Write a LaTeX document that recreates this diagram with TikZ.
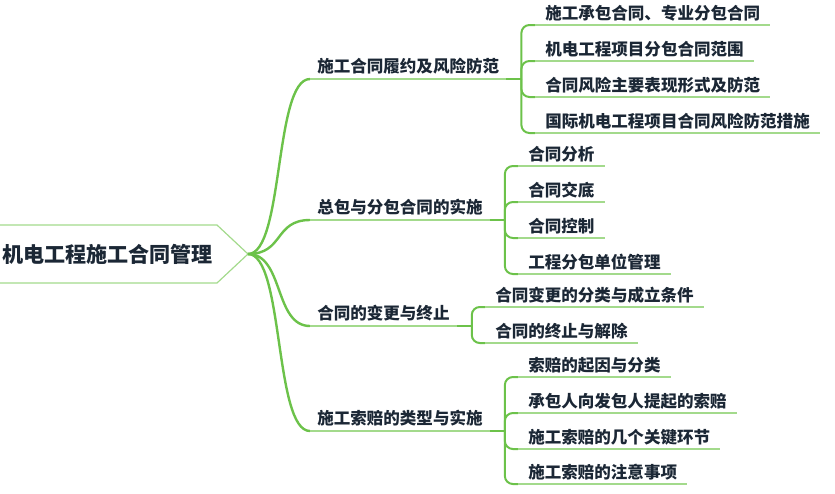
\documentclass[tikz,border=0pt]{standalone}
\usepackage{fontspec}
\setmainfont{Noto Sans CJK SC}
\usetikzlibrary{positioning}
\definecolor{branchgreen}{HTML}{6CC24A}
\definecolor{linegreen}{HTML}{A3DA8C}
\definecolor{inkblue}{HTML}{1B2735}
\tikzset{
  topic/.style={font=\bfseries\fontsize{15.8pt}{18pt}\selectfont, text=inkblue,
    inner xsep=1.5pt, anchor=west},
  sub/.style={font=\bfseries\fontsize{12.4pt}{15pt}\selectfont, text=inkblue,
    inner xsep=5.25pt, inner ysep=0pt, text depth=4.5pt, anchor=south west},
  leaf/.style={sub, inner xsep=7.5pt, text depth=4.1pt},
  branch/.style={draw=branchgreen, line width=1.8pt},
  stub/.style={draw=branchgreen, line width=2.2pt},
  bracket/.style={draw=branchgreen, line width=1.5pt, rounded corners=6pt},
  uline/.style={draw=linegreen, line width=1.1pt}
}

\begin{document}
\begin{tikzpicture}[x=0.75pt, y=-0.75pt]
  \useasboundingbox (0,0) rectangle (835,493);
  % central topic
  \draw[linegreen, line width=0.9pt] (-2,225) -- (217,225) -- (248,254) -- (217,283) -- (-2,283);
  \node[topic] (root) at (0,254) {机电工程施工合同管理};
  \coordinate (tip) at (248,254);
  % main branches
  \node[sub] (p1) at (310,79) {施工合同履约及风险防范};
  \node[sub] (p2) at (310,220) {总包与分包合同的实施};
  \node[sub] (p3) at (310,326) {合同的变更与终止};
  \node[sub] (p4) at (310,431) {施工索赔的类型与实施};
  \foreach \p in {p1,p2,p3,p4} {
    \draw[branch] (tip) .. controls +(36,0) and +(-36,0) .. (\p.south west);
    \draw[uline] (\p.south west) -- (\p.south east);
    \path (\p.south east) ++(15,0) coordinate (b\p);
    \draw[stub] (\p.south east) -- (b\p);
  }
  % leaves of p1
  \node[leaf] (c11) at (535,25) {施工承包合同、专业分包合同};
  \node[leaf] (c12) at (535,61) {机电工程项目分包合同范围};
  \node[leaf] (c13) at (535,97) {合同风险主要表现形式及防范};
  \node[leaf] (c14) at (535,133) {国际机电工程项目合同风险防范措施};
  % leaves of p2
  \node[leaf] (c21) at (518,166) {合同分析};
  \node[leaf] (c22) at (518,202) {合同交底};
  \node[leaf] (c23) at (518,238) {合同控制};
  \node[leaf] (c24) at (518,274) {工程分包单位管理};
  % leaves of p3
  \node[leaf] (c31) at (485,307) {合同变更的分类与成立条件};
  \node[leaf] (c32) at (485,343) {合同的终止与解除};
  % leaves of p4
  \node[leaf] (c41) at (518,377) {索赔的起因与分类};
  \node[leaf] (c42) at (518,413) {承包人向发包人提起的索赔};
  \node[leaf] (c43) at (518,449) {施工索赔的几个关键环节};
  \node[leaf] (c44) at (518,484) {施工索赔的注意事项};
  \foreach \p/\c in {p1/c11,p1/c12,p1/c13,p1/c14,p2/c21,p2/c22,p2/c23,p2/c24,
                     p3/c31,p3/c32,p4/c41,p4/c42,p4/c43,p4/c44} {
    \draw[bracket] (b\p) |- (\c.south west);
    \draw[uline] (\c.south west) -- (\c.south east);
  }
\end{tikzpicture}
\end{document}
